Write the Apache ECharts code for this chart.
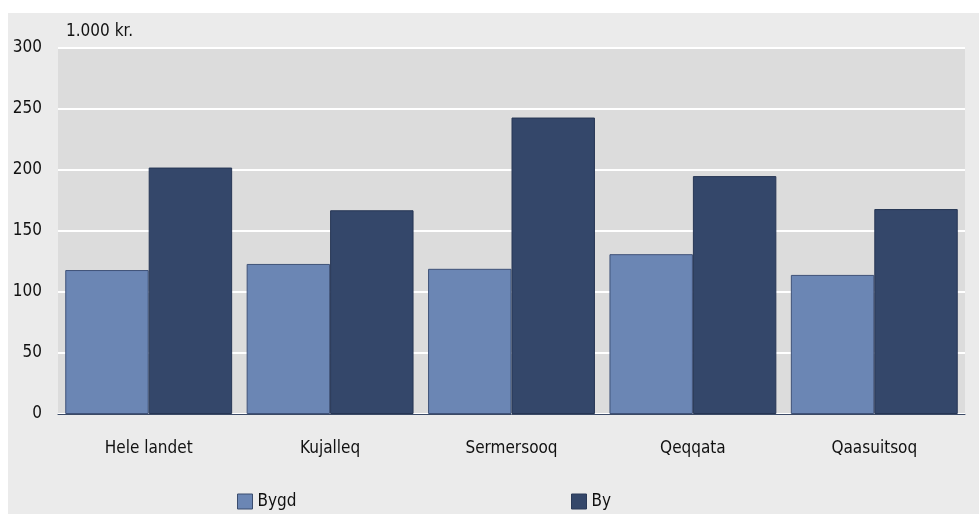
<!DOCTYPE html>
<html><head><meta charset="utf-8">
<script src="https://cdn.jsdelivr.net/npm/echarts@6/dist/echarts.min.js"></script>
<style>html,body{margin:0;padding:0;background:#fff}#c{width:979px;height:514px}</style>
</head><body><div id="c"></div>
<script>
const categories = ['Hele landet','Kujalleq','Sermersooq','Qeqqata','Qaasuitsoq'];
const bygd = [118, 123, 119, 131, 114];
const by = [202, 167, 243, 195, 168];
const yTicks = [0, 50, 100, 150, 200, 250, 300];
const unitLabel = '1.000 kr.';
const FONT = '"DejaVu Sans Condensed","DejaVu Sans",sans-serif';
const FS = 17;

const chart = echarts.init(document.getElementById('c'));
chart.setOption({
  animation: false,
  textStyle: {fontFamily: FONT},
  graphic: [
    {type:'rect', shape:{x:8,y:13,width:971,height:501}, style:{fill:'#ebebeb'}, z:-10},
    {type:'text', left:66, top:23, style:{text:unitLabel, fontSize:FS, fontFamily:FONT, fill:'#111'}}
  ],
  grid: {left:58, top:48, right:14, bottom:100, show:true, backgroundColor:'#dcdcdc', borderWidth:0},
  legend: [
    {data:['Bygd'], icon:'rect', left:232, top:488, itemWidth:15, itemHeight:15, itemGap:5, textStyle:{fontSize:FS, color:'#111', fontFamily:FONT}, itemStyle:{borderColor:'#3a4c6e', borderWidth:1}},
    {data:['By'], icon:'rect', left:566, top:488, itemWidth:15, itemHeight:15, itemGap:5, textStyle:{fontSize:FS, color:'#111', fontFamily:FONT}, itemStyle:{borderColor:'#2a3a58', borderWidth:1}}
  ],
  xAxis: {
    type:'category', data:categories,
    axisLine:{lineStyle:{color:'#3b4a66', width:1}},
    axisTick:{show:false},
    axisLabel:{fontSize:FS, color:'#111', margin:26, fontFamily:FONT}
  },
  yAxis: {
    type:'value', min:0, max:300, interval:50,
    axisLine:{show:false}, axisTick:{show:false},
    axisLabel:{fontSize:FS, color:'#111', margin:16, fontFamily:FONT,
      formatter: v => yTicks.includes(v) ? String(v) : ''},
    splitLine:{lineStyle:{color:'#ffffff', width:2}}
  },
  series: [
    {name:'Bygd', type:'bar', data:bygd, barGap:'0%', barCategoryGap:'8%',
     itemStyle:{color:'#6b86b4', borderColor:'#3f5278', borderWidth:1}},
    {name:'By', type:'bar', data:by,
     itemStyle:{color:'#34476a', borderColor:'#263654', borderWidth:1}}
  ]
});
</script></body></html>
